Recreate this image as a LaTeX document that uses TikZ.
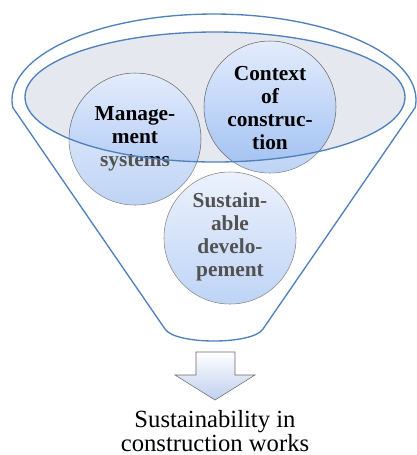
\documentclass[tikz,border=0pt]{standalone}
\usepackage{fontspec}
\setmainfont{Liberation Serif}
\definecolor{funnelblue}{RGB}{79,129,189}
\definecolor{rimfill}{RGB}{229,232,238}
\definecolor{bubbletop}{RGB}{228,236,252}
\definecolor{bubblebottom}{RGB}{160,192,242}
\definecolor{bubbleline}{RGB}{105,105,105}
\definecolor{arrowbottom}{RGB}{190,207,238}
\begin{document}
\begin{tikzpicture}[x=0.75pt,y=0.75pt,yscale=-1,xscale=1,
  funnelline/.style={draw=funnelblue, line width=1pt},
  bubble/.style={draw=bubbleline, line width=0.4pt, top color=bubbletop, bottom color=bubblebottom},
  bubbletext/.style={font=\fontsize{16}{17.25}\selectfont\bfseries, align=center, inner sep=0pt}]
\path[use as bounding box] (0,0) rectangle (417,455);

%Shape: Funnel
\draw [funnelline, fill=white] plot[domain=-5:185, samples=90] ({214+202*cos(\x)}, {100-86*sin(\x)}) -- (165,329) .. controls (175,345) and (253,345) .. (263,329) -- cycle ;
%Shape: Ellipse (rim)
\fill [rimfill] (215,97) ellipse [x radius=190, y radius=65] ;

\coordinate (mgmt) at (135,139);
\coordinate (context) at (270,107);
\coordinate (sustdev) at (230,238);

%Shape: Circle
\draw [bubble] (mgmt) circle [radius=66] ;
%Shape: Circle
\draw [bubble] (context) circle [radius=66] ;
%Shape: Circle
\draw [bubble] (sustdev) circle [radius=66] ;

% Text Node
\node [bubbletext] (mgmttext) at (mgmt) {Manage-\\ment\\systems};
% Text Node
\node [bubbletext] (contexttext) at ([yshift=1]context) {Context\\of\\construc-\\tion};
% Text Node
\node [bubbletext] (sustdevtext) at ([yshift=-1]sustdev) {Sustain-\\able\\develo-\\pement};

% lighten what lies outside the rim
\begin{scope}
\clip (mgmt) circle [radius=66] (context) circle [radius=66] (sustdev) circle [radius=66];
\fill [white, fill opacity=0.32, even odd rule] (0,0) rectangle (417,455) (215,97) ellipse [x radius=190, y radius=65] ;
\end{scope}

%Shape: Ellipse (rim outline)
\draw [funnelline] (215,97) ellipse [x radius=190, y radius=65] ;

%Shape: Down Arrow
\draw [draw=bubbleline, line width=0.4pt, top color=white, bottom color=arrowbottom] (196,352) -- (235,352) -- (235,375) -- (255,375) -- (215,400) -- (175,375) -- (196,375) -- cycle ;

% Text Node
\node [font=\fontsize{18.5}{18}\selectfont, align=center, inner sep=0pt] (result) at (215,431) {Sustainability in\\construction works};

\end{tikzpicture}
\end{document}
